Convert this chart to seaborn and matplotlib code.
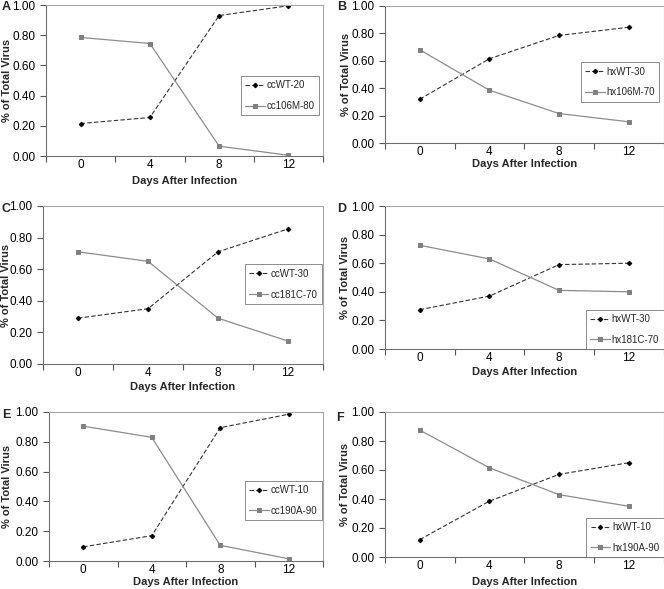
import matplotlib
matplotlib.use("Agg")
import matplotlib.pyplot as plt
import seaborn as sns
import numpy as np
import pandas as pd

# ── Data ──────────────────────────────────────────────────────────────────────
DAYS = ["0", "4", "8", "12"]

PANELS = ["A", "B", "C", "D", "E", "F"]
WT_NAMES = ["ccWT-20", "hxWT-30", "ccWT-30", "hxWT-30", "ccWT-10", "hxWT-10"]
MUT_NAMES = ["cc106M-80", "hx106M-70", "cc181C-70", "hx181C-70", "cc190A-90", "hx190A-90"]

WT_A = [0.215, 0.255, 0.930, 0.995]
MUT_A = [0.785, 0.745, 0.065, 0.005]
WT_B = [0.320, 0.615, 0.785, 0.845]
MUT_B = [0.680, 0.385, 0.215, 0.155]
WT_C = [0.290, 0.350, 0.710, 0.855]
MUT_C = [0.710, 0.650, 0.290, 0.145]
WT_D = [0.275, 0.370, 0.590, 0.600]
MUT_D = [0.725, 0.630, 0.410, 0.400]
WT_E = [0.095, 0.170, 0.895, 0.985]
MUT_E = [0.905, 0.830, 0.105, 0.015]
WT_F = [0.120, 0.385, 0.570, 0.650]
MUT_F = [0.875, 0.615, 0.430, 0.350]

WT_VALUES = [WT_A, WT_B, WT_C, WT_D, WT_E, WT_F]
MUT_VALUES = [MUT_A, MUT_B, MUT_C, MUT_D, MUT_E, MUT_F]

# ── Style ─────────────────────────────────────────────────────────────────────
sns.set_style("ticks")
plt.rcParams.update({
    "font.family": ["Liberation Sans", "DejaVu Sans"],
    "font.size": 8,
    "axes.linewidth": 0.8,
    "xtick.major.size": 0,
    "xtick.minor.size": 4,
    "ytick.major.size": 4,
})

W, H = 664, 589
# axes boxes in pixels: left, top, right, bottom
BOXES = [
    (46, 5, 323, 156),
    (385, 6, 663.5, 143),
    (43, 206, 323, 364),
    (385, 206, 663.5, 349),
    (49, 412, 323, 561),
    (385, 412, 663.5, 557),
]
# legend anchor (axes fractions) and loc
LEGENDS = [
    ((0.985, 0.53), "upper right"),
    ((0.985, 0.59), "upper right"),
    ((0.995, 0.63), "upper right"),
    ((1.0, 0.0), "lower right"),
    ((0.995, 0.54), "upper right"),
    ((1.0, 0.0), "lower right"),
]
LETTER_POS = [(2, 1), (337, 1), (2, 203), (337, 203), (2, 409), (336, 412)]
XLABEL_Y = [181, 164, 387, 372, 582, 582]   # pixel centre of x-axis title
YLABEL_X = [7, 346, 6, 345, 7, 345]         # pixel centre of y-axis title

fig = plt.figure(figsize=(W / 100, H / 100), dpi=100)
fig.patch.set_facecolor("white")

pos = np.arange(len(DAYS))

for i, name in enumerate(PANELS):
    l, t, r, b = BOXES[i]
    ax = fig.add_axes([l / W, 1 - b / H, (r - l) / W, (b - t) / H])
    df = pd.DataFrame({"pos": pos, "wt": WT_VALUES[i], "mut": MUT_VALUES[i]})

    sns.lineplot(data=df, x="pos", y="wt", ax=ax, color="#333333", linewidth=0.8,
                 linestyle=(0, (4, 2)), marker="D", markersize=2.3,
                 markerfacecolor="black", markeredgecolor="black", label=WT_NAMES[i])
    sns.lineplot(data=df, x="pos", y="mut", ax=ax, color="#8c8c8c", linewidth=0.9,
                 marker="s", markersize=3.0, markerfacecolor="#808080",
                 markeredgecolor="#808080", label=MUT_NAMES[i])

    ax.set_xlim(-0.5, len(DAYS) - 0.5)
    ax.set_ylim(0, 1.0)
    ax.set_xticks(pos)
    ax.set_xticklabels(DAYS, fontsize=8.5)
    ax.set_xticks(np.arange(-0.5, len(DAYS)), minor=True)
    ax.set_yticks(np.arange(0, 1.01, 0.2))
    ax.set_yticklabels([f"{v:.2f}" for v in np.arange(0, 1.01, 0.2)], fontsize=8.5)
    ax.tick_params(axis="both", which="both", colors="#555555", labelcolor="black", width=0.8)
    ax.tick_params(axis="x", which="major", pad=2.5)

    ax.set_xlabel("Days After Infection", fontsize=8, fontweight="bold", va="center")
    ax.set_ylabel("% of Total Virus", fontsize=8, fontweight="bold", va="center")
    ax.xaxis.set_label_coords(0.5, (b - XLABEL_Y[i]) / (b - t))
    ax.yaxis.set_label_coords((YLABEL_X[i] - l) / (r - l), 0.5)

    for side in ["left", "bottom"]:
        ax.spines[side].set_color("#707070")
    for side in ["top", "right"]:
        ax.spines[side].set_color("#a6a6a6")

    anchor, loc = LEGENDS[i]
    leg = ax.legend(loc=loc, bbox_to_anchor=anchor, fontsize=7, frameon=True,
                    fancybox=False, handlelength=2.0, handletextpad=0.2,
                    borderaxespad=0, borderpad=0.45, labelspacing=1.1)
    leg.get_frame().set_edgecolor("#707070")
    leg.get_frame().set_linewidth(0.7)

    lx, ly = LETTER_POS[i]
    fig.text(lx / W, 1 - ly / H, name, fontsize=9, fontweight="bold",
             ha="left", va="top")

plt.savefig("out.png", dpi=100, facecolor="white")
